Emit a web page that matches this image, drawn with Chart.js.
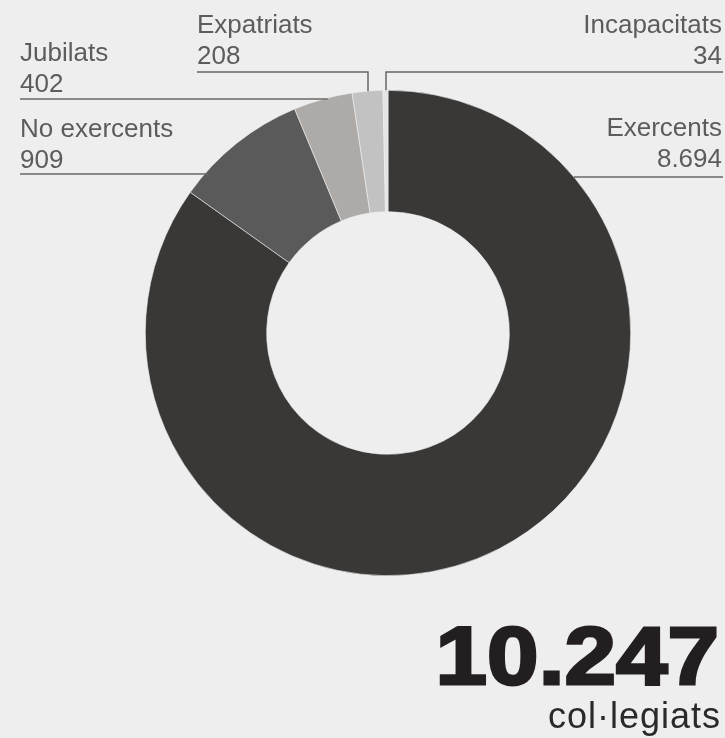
<!DOCTYPE html>
<html>
<head>
<meta charset="utf-8">
<script src="https://cdn.jsdelivr.net/npm/chart.js@4"></script>
<style>
  html, body { margin: 0; padding: 0; background: #eeeeee; }
  #wrap { width: 725px; height: 738px; position: relative; }
</style>
</head>
<body>
<div id="wrap"><canvas id="colegiatsChart" width="725" height="738"></canvas></div>
<script>
const categories = ['Exercents', 'No exercents', 'Jubilats', 'Expatriats', 'Incapacitats'];
const values = [8694, 909, 402, 208, 34];
const sliceColors = ['#3a3836', '#5a5a5a', '#aeaaa8', '#c2c2c2', '#e4e4e4'];
const totalLabel = 'col·legiats';

function formatCa(n) {
    return String(n).replace(/\B(?=(\d{3})+(?!\d))/g, '.');
}

// where each label sits and how its leader line runs
const labelLayout = [
    { align: 'right', x: 722, y: 136, lineY: 177, toward: 'right' },
    { align: 'left', x: 20, y: 137, lineY: 174, toward: 'left' },
    { align: 'left', x: 20, y: 61, lineY: 99, toward: 'left' },
    { align: 'left', x: 197, y: 33, lineY: 72, dropX: 368 },
    { align: 'right', x: 722, y: 33, lineY: 72, dropX: 386 }
];

const labelsPlugin = {
    id: 'leaderLabels',
    afterDraw(chart) {
        const ctx = chart.ctx;
        const arc = chart.getDatasetMeta(0).data[0];
        const cx = arc.x, cy = arc.y, r = arc.outerRadius;
        ctx.save();
        ctx.strokeStyle = '#6a6664';
        ctx.lineWidth = 1.5;
        ctx.fillStyle = '#5c5c5c';
        ctx.font = '26px "Liberation Sans", Arial, sans-serif';
        ctx.textBaseline = 'alphabetic';
        labelLayout.forEach((l, i) => {
            ctx.textAlign = l.align;
            ctx.fillText(categories[i], l.x, l.y);
            ctx.fillText(formatCa(values[i]), l.x, l.y + 31);
            ctx.beginPath();
            if (l.dropX !== undefined) {
                const topY = cy - Math.sqrt(r * r - (l.dropX - cx) * (l.dropX - cx));
                const far = l.align === 'left' ? l.x : l.x + 1;
                ctx.moveTo(far, l.lineY);
                ctx.lineTo(l.dropX, l.lineY);
                ctx.lineTo(l.dropX, topY);
            } else {
                const dx = Math.sqrt(r * r - (l.lineY - cy) * (l.lineY - cy));
                const edge = l.toward === 'left' ? cx - dx + 4 : cx + dx;
                ctx.moveTo(l.align === 'left' ? l.x : l.x + 1, l.lineY);
                ctx.lineTo(edge, l.lineY);
            }
            ctx.stroke();
        });

        // total
        const total = values.reduce((a, b) => a + b, 0);
        ctx.fillStyle = '#231f20';
        ctx.strokeStyle = '#231f20';
        ctx.textAlign = 'right';
        ctx.font = 'bold 82px "Liberation Sans", Arial, sans-serif';
        ctx.save();
        ctx.translate(719, 684);
        ctx.scale(1.13, 1);
        ctx.lineWidth = 2.8;
        ctx.fillText(formatCa(total), 0, 0);
        ctx.strokeText(formatCa(total), 0, 0);
        ctx.restore();
        ctx.fillStyle = '#2a2a2a';
        ctx.font = '36px "Liberation Sans", Arial, sans-serif';
        ctx.letterSpacing = '1px';
        ctx.fillText(totalLabel, 721, 728);
        ctx.restore();
    }
};

new Chart(document.getElementById('colegiatsChart').getContext('2d'), {
    type: 'doughnut',
    data: {
        labels: categories,
        datasets: [{
            data: values,
            backgroundColor: sliceColors,
            borderColor: '#eeeeee',
            borderWidth: 0.6
        }]
    },
    options: {
        responsive: false,
        animation: false,
        cutout: '50%',
        layout: { padding: { left: 145, right: 94, top: 90, bottom: 162 } },
        plugins: {
            legend: { display: false },
            tooltip: { enabled: false }
        }
    },
    plugins: [labelsPlugin]
});
</script>
</body>
</html>
